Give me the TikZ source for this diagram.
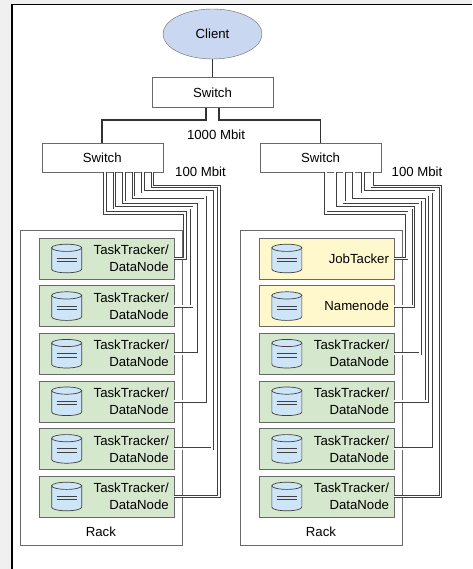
\documentclass[tikz,border=0pt]{standalone}
\usepackage{fontspec}
\setmainfont{Liberation Sans}
\usepackage{tikz}
\usetikzlibrary{shapes,positioning}
\definecolor{clientblue}{RGB}{201,216,240}
\definecolor{slavegreen}{RGB}{213,232,206}
\definecolor{masteryellow}{RGB}{255,248,204}
\definecolor{dbblue}{RGB}{205,229,247}
\definecolor{boxline}{RGB}{105,105,105}
\tikzset{
	hw/.style = {align=center, inner sep=0pt, text centered},
	hw_client/.style = {hw, ellipse, draw=boxline, fill=clientblue, minimum width=99pt, minimum height=50pt},
	hw_switch/.style = {hw, rectangle, draw=boxline, fill=white, minimum width=121pt, minimum height=30pt},
	hw_rack/.style = {hw, rectangle, draw=boxline, minimum width=162pt, minimum height=315pt},
	hw_node/.style = {rectangle, draw=boxline, fill=slavegreen, align=right, inner xsep=5pt, text width=124.5pt, minimum height=41pt},
	hw_master/.style = {hw_node, fill=masteryellow},
	hw_db/.pic = {
		\path[draw=black!75, fill=dbblue, line width=.7pt] (-15,-10.7) -- (-15,10.7)
			arc[start angle=180, end angle=0, x radius=15, y radius=3.6] -- (15,-10.7) -- cycle;
		\draw[black!75, fill=dbblue, line width=.7pt] (0,-10.7) ellipse [x radius=15, y radius=3.6];
		\draw[black!75, line width=.7pt] (-10,-0.2) -- (10,-0.2) (-10,3.2) -- (10,3.2);
	},
	trunk/.style = {line width=1.7pt, draw=black!80},
	cable/.style = {draw=black!75, line width=.6pt, double=white, double distance=1.9pt}
}

\begin{document}
\begin{tikzpicture}[x=1pt, y=-1pt, font=\fontsize{13.2}{17}\selectfont]
	\useasboundingbox (0,0) rectangle (472,569);
	% page frame
	\fill[black!6] (0,0) rectangle (472,569);
	\fill[white] (12,4.5) rectangle (472,569);
	\draw[line width=1.6pt] (12,569) -- (12,4.5) -- (472,4.5);

	\node [hw_client] (client) at (212.5,34) {Client};
	\node [hw_switch] (ts) at (212.5,92.5) {Switch};
	\node [hw_switch, minimum height=29pt] (ls) at (102.2,157.5) {Switch};
	\node [hw_switch, minimum height=29pt] (rs) at (320.5,157.5) {Switch};
	\node [hw] (gbit) at (216,135) {1000 Mbit};
	\node [hw] (lmbit) at (200.5,172) {100 Mbit};
	\node [hw] (rmbit) at (417,172) {100 Mbit};

	% racks
	\node [hw_rack] (lrack) at (100.9,387.5) {};
	\node [hw_rack] (rrack) at (321,387.5) {};
	\node [hw] (lrack_lbl) at ([yshift=13pt]lrack.south) {Rack};
	\node [hw] (rrack_lbl) at ([yshift=13pt]rrack.south) {Rack};

	\foreach \i in {1,...,6}
		\node [hw_node] (l\i) at (106.5,{258.5+47.6*(\i-1)}) {TaskTracker/\\DataNode};
	\node [hw_master] (r1) at (326.7,258.5) {JobTacker};
	\node [hw_master] (r2) at (326.7,306.1) {Namenode};
	\foreach \i in {3,...,6}
		\node [hw_node] (r\i) at (326.7,{258.5+47.6*(\i-1)}) {TaskTracker/\\DataNode};
	\foreach \i in {1,...,6} {
		\pic at ([xshift=27.6pt]l\i.west) {hw_db};
		\pic at ([xshift=27.6pt]r\i.west) {hw_db};
	}

	% 1000 Mbit links
	\draw[trunk] (client) -- (ts);
	\draw[trunk] ([xshift=-6.7pt]ts.south) -- ++(0,12.5) -| (ls.north);
	\draw[trunk] ([xshift=6.7pt]ts.south) -- ++(0,12.5) -| (rs.north);

	% 100 Mbit links
	\foreach \i in {1,...,6} {
		\draw[cable] ([xshift={63.5pt+9.5pt*(\i-1)}, yshift=-0.2pt]ls.south west) |- ({185+6.8*(\i-1)},{213-5.3*(\i-1)}) |- ([xshift=0.2pt]l\i.east);
		\draw[cable] ([xshift={66pt+9.3pt*(\i-1)}, yshift=-0.2pt]rs.south west) |- ({406.7+6.75*(\i-1)},{213-5.3*(\i-1)}) |- ([xshift=0.2pt]r\i.east);
	}
\end{tikzpicture}
\end{document}
